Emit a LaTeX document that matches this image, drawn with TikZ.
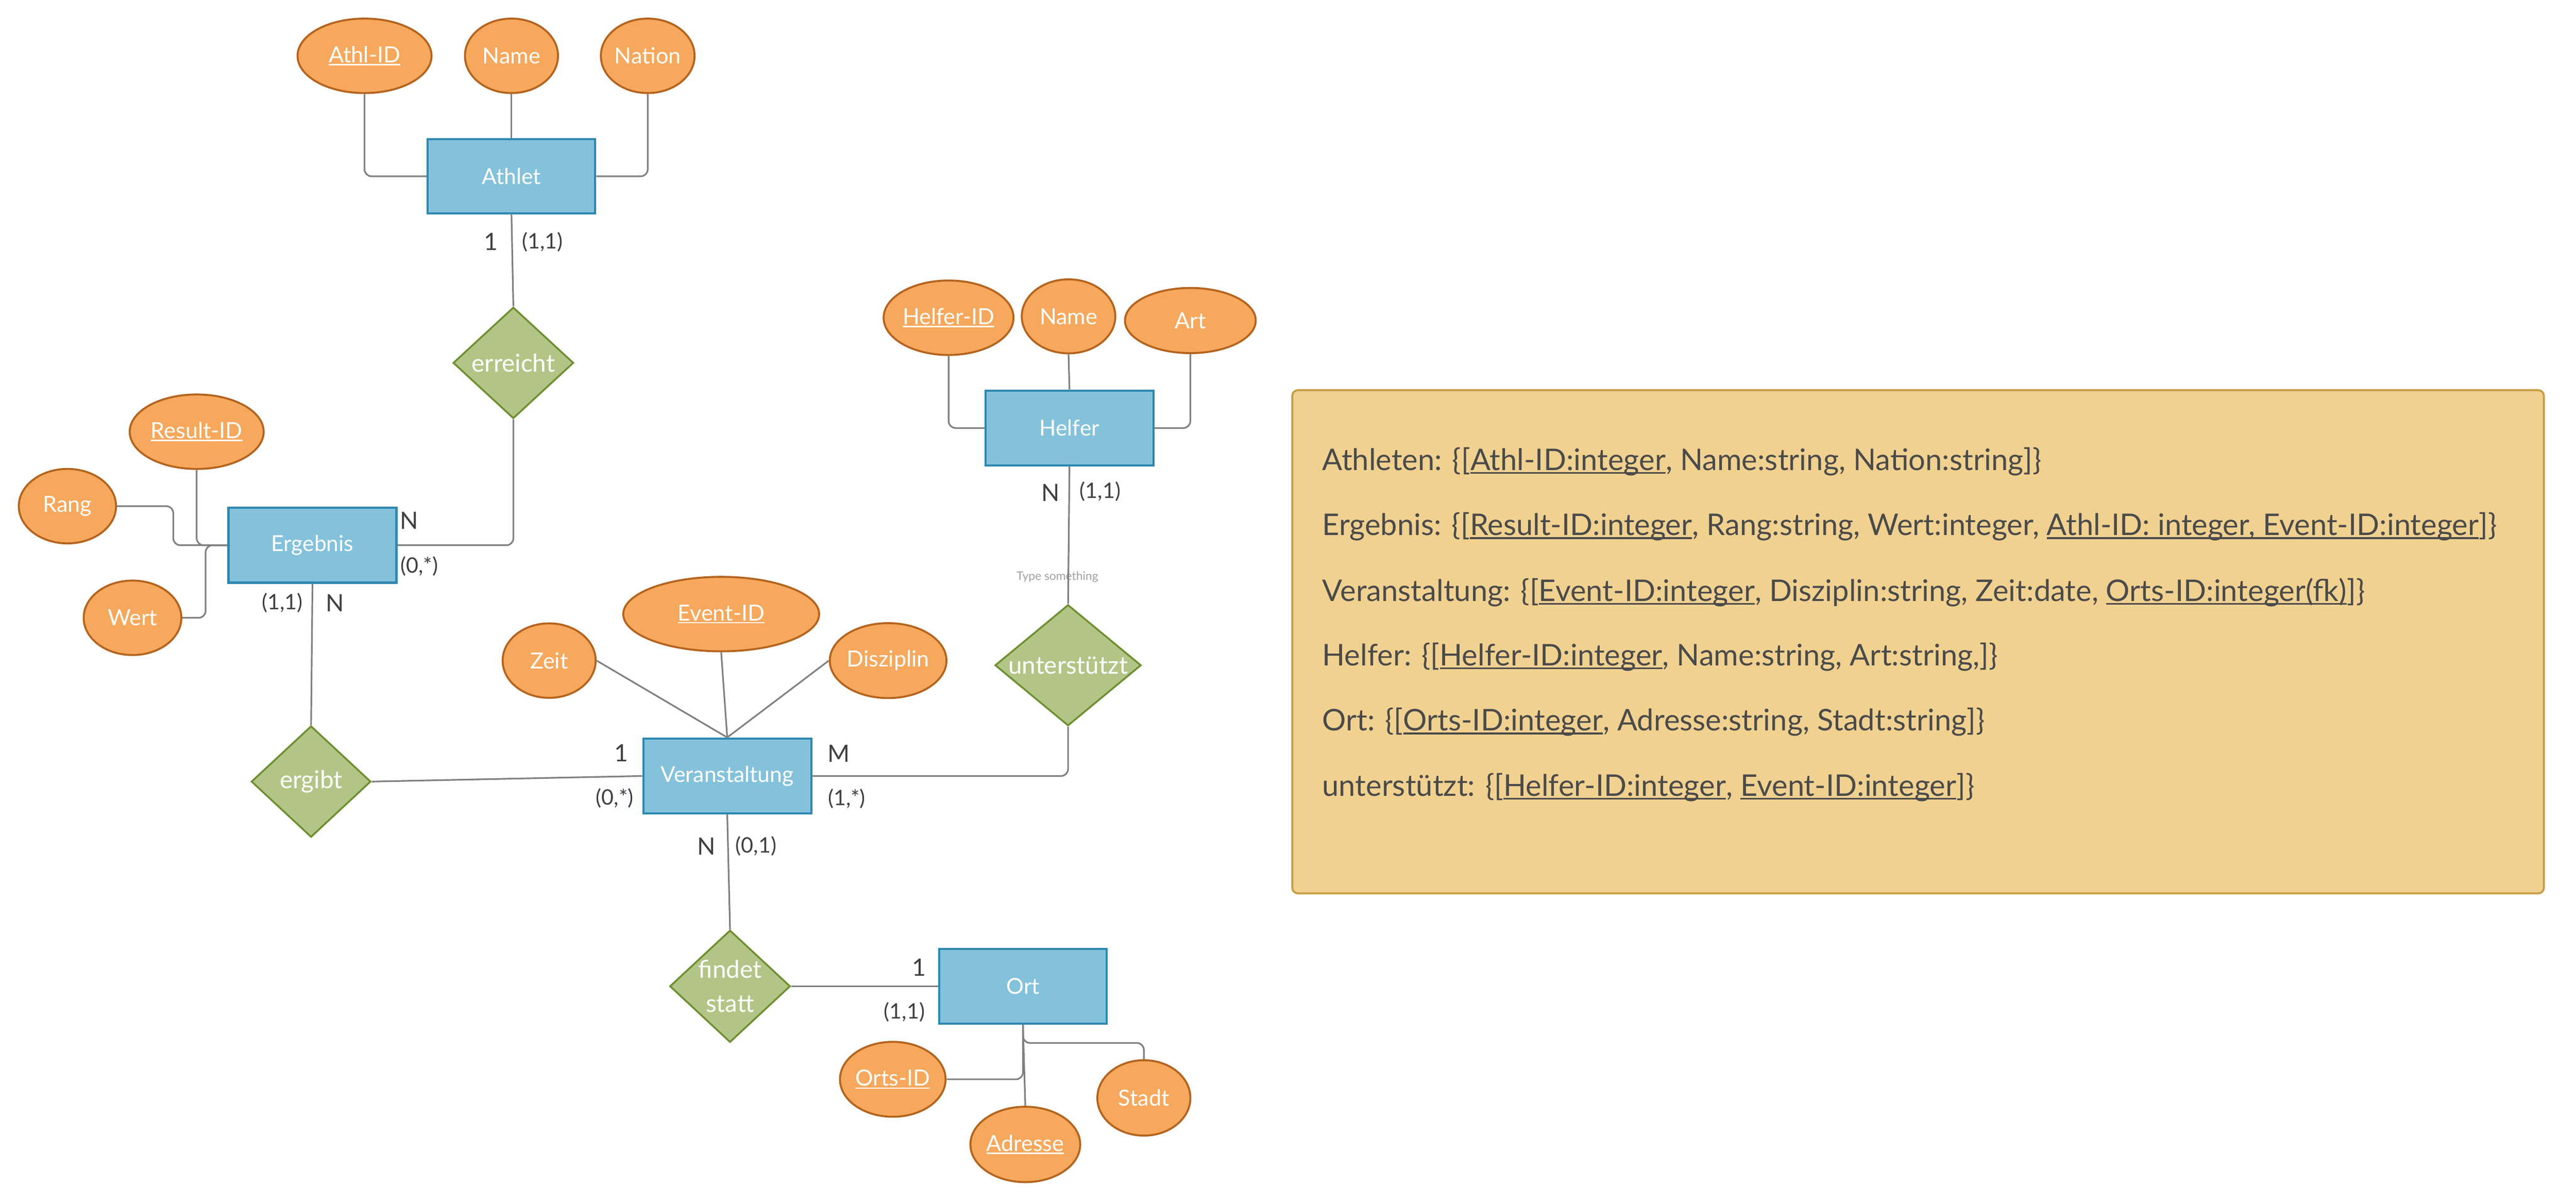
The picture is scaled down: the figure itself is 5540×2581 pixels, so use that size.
\documentclass[tikz,border=0pt]{standalone}
\usepackage{fontspec}
\setmainfont{Lato}
\usetikzlibrary{shapes.geometric}
\definecolor{attrfill}{HTML}{F6A85C}
\definecolor{attrdraw}{HTML}{B4641E}
\definecolor{entfill}{HTML}{84C2DB}
\definecolor{entdraw}{HTML}{2F88B0}
\definecolor{relfill}{HTML}{B2C586}
\definecolor{reldraw}{HTML}{6E8F30}
\definecolor{linecol}{HTML}{808080}
\definecolor{labcol}{HTML}{404040}
\definecolor{boxfill}{HTML}{F0D190}
\definecolor{boxdraw}{HTML}{C89D45}
\definecolor{boxtext}{HTML}{4A4A4A}
\definecolor{hintcol}{HTML}{A0A0A0}
\newcommand\myul[1]{\begingroup\setbox0=\hbox{#1}\rlap{\vrule height -0.06em depth 0.12em width \wd0}\box0\endgroup}
\newcommand\zw[1]{\makebox[0pt]{#1}}
\begin{document}
\begin{tikzpicture}[x=0.01cm,y=-0.01cm,
  attr/.style={ellipse, fill=attrfill, draw=attrdraw, line width=1.2pt, text=white, inner sep=0pt, font=\fontsize{13.6}{16}\selectfont},
  entity/.style={rectangle, fill=entfill, draw=entdraw, line width=1.3pt, text=white, inner sep=0pt, minimum width=3.61cm, minimum height=1.61cm, font=\fontsize{13.4}{16}\selectfont},
  rel/.style={diamond, fill=relfill, draw=reldraw, line width=1.1pt, text=white, inner sep=0pt, align=center, font=\fontsize{15}{20.8}\selectfont},
  conn/.style={draw=linecol, line width=1pt, rounded corners=0.15cm},
  card/.style={text=labcol, inner sep=0pt, font=\fontsize{14.6}{17}\selectfont},
  cardpair/.style={text=labcol, inner sep=0pt, font=\fontsize{13}{15}\selectfont},
  schemaline/.style={anchor=base west, inner sep=0pt, text=boxtext, font=\fontsize{18.25}{22}\selectfont}]
\useasboundingbox (0,0) rectangle (5540,2581);

% Athlet
\node[attr, minimum width=2.88cm, minimum height=1.6cm] (athlid) at (784,120) {\myul{Athl-ID}};
\node[attr, minimum width=2.0cm, minimum height=1.6cm] (athname) at (1100,120) {Name};
\node[attr, minimum width=2.0cm, minimum height=1.6cm] (nation) at (1393,120) {Nation};
\node[entity, minimum width=3.6cm, minimum height=1.6cm] (athlet) at (1100,379) {Athlet};
\node[rel, minimum width=2.59cm, minimum height=2.39cm] (erreicht) at (1104,780) {\zw{erreicht}};

% Ergebnis
\node[attr, minimum width=2.88cm, minimum height=1.6cm] (resultid) at (423,928) {\myul{Result-ID}};
\node[attr, minimum width=2.09cm, minimum height=1.6cm] (rang) at (145,1088) {Rang};
\node[attr, minimum width=2.1cm, minimum height=1.6cm] (wert) at (285,1328) {Wert};
\node[entity] (ergebnis) at (672,1172) {Ergebnis};
\node[rel, minimum width=2.57cm, minimum height=2.39cm] (ergibt) at (669,1680) {\zw{ergibt}};

% Veranstaltung
\node[attr, minimum width=2.0cm, minimum height=1.6cm] (zeit) at (1181,1420) {Zeit};
\node[attr, minimum width=4.21cm, minimum height=1.6cm] (eventid) at (1551,1320) {\myul{Event-ID}};
\node[attr, minimum width=2.17cm, minimum height=1.61cm] (disziplin) at (1910,1420) {Disziplin};
\node[entity] (veranst) at (1564,1668) {Veranstaltung};

% Helfer
\node[attr, minimum width=2.42cm, minimum height=1.6cm] (helferid) at (2040,683) {\myul{Helfer-ID}};
\node[attr, minimum width=2.01cm, minimum height=1.59cm] (hname) at (2298,680) {Name};
\node[attr, minimum width=2.81cm, minimum height=1.4cm] (art) at (2560,689) {Art};
\node[entity] (helfer) at (2300,920) {Helfer};
\node[rel, minimum width=3.14cm, minimum height=2.6cm] (unterst) at (2297,1430) {\zw{unterstützt}};
\node[text=hintcol, inner sep=0pt, font=\fontsize{7.2}{8}\selectfont] (hint) at (2274,1240) {Type something};

% Ort
\node[rel, minimum width=2.59cm, minimum height=2.41cm] (findet) at (1570,2120) {\zw{findet}\\\zw{statt}};
\node[entity, minimum width=3.6cm] (ort) at (2200,2120) {Ort};
\node[attr, minimum width=2.01cm, minimum height=1.61cm] (ortsid) at (1920,2320) {\myul{Orts-ID}};
\node[attr, minimum width=2.09cm, minimum height=1.62cm] (adresse) at (2205,2460) {\myul{Adresse}};
\node[attr, minimum width=2.0cm, minimum height=1.62cm] (stadt) at (2460,2360) {Stadt};

% connectors
\draw[conn] (athlid.south) |- (athlet.west);
\draw[conn] (athname.south) -- (athlet.north);
\draw[conn] (nation.south) |- (athlet.east);
\draw[conn] (athlet.south) -- (erreicht.north);
\draw[conn] (ergebnis.east) -| (erreicht.south);
\draw[conn] (rang.east) -- ++(121,0) |- (ergebnis.west);
\draw[conn] (resultid.south) |- (ergebnis.west);
\draw[conn] (wert.east) -- ++(50,0) |- (ergebnis.west);
\draw[conn] (ergebnis.south) -- (ergibt.north);
\draw[conn] (ergibt.east) -- (veranst.west);
\draw[conn] (zeit.east) -- (veranst.north);
\draw[conn] (eventid.south) -- (veranst.north);
\draw[conn] (disziplin.west) -- (veranst.north);
\draw[conn] (veranst.east) -| (unterst.south);
\draw[conn] (helfer.south) -- (unterst.north);
\draw[conn] (helferid.south) |- (helfer.west);
\draw[conn] (hname.south) -- (helfer.north);
\draw[conn] (art.south) |- (helfer.east);
\draw[conn] (veranst.south) -- (findet.north);
\draw[conn] (findet.east) -- (ort.west);
\draw[conn] (ort.south) -- ++(0,39) -| (stadt.north);
\draw[conn] (ortsid.east) -| (ort.south);
\draw[conn] (adresse.north) -- (ort.south);

% cardinalities
\node[card] (c1) at (1056,520) {1};
\node[cardpair] (c2) at (1167,520) {(1,1)};
\node[card] (c3) at (880,1119) {N};
\node[cardpair] (c4) at (902,1217) {(0,*)};
\node[cardpair] (c5) at (607,1296) {(1,1)};
\node[card] (c6) at (720,1296) {N};
\node[card] (c7) at (1336,1619) {1};
\node[cardpair] (c8) at (1322,1716) {(0,*)};
\node[card] (c9) at (1804,1620) {M};
\node[cardpair] (c10) at (1821,1717) {(1,*)};
\node[card] (c11) at (1519,1819) {N};
\node[cardpair] (c12) at (1626,1819) {(0,1)};
\node[card] (c13) at (1977,2079) {1};
\node[cardpair] (c14) at (1945,2176) {(1,1)};
\node[card] (c15) at (2259,1059) {N};
\node[cardpair] (c16) at (2366,1057) {(1,1)};

% schema box
\node[fill=boxfill, draw=boxdraw, line width=1.2pt, rounded corners=0.12cm, minimum width=26.9cm, minimum height=10.81cm, inner sep=0pt] (schema) at (4125,1379.5) {};
\node[schemaline] (l1) at (2843,1011) {Athleten: \{[\myul{Athl-ID:integer}, Name:string, Nation:string]\}};
\node[schemaline] (l2) at (2843,1151) {Ergebnis: \{[\myul{Result-ID:integer}, Rang:string, Wert:integer, \myul{Athl-ID: integer, Event-ID:integer}]\}};
\node[schemaline] (l3) at (2843,1292) {Veranstaltung: \{[\myul{Event-ID:integer}, Disziplin:string, Zeit:date, \myul{Orts-ID:integer(fk)}]\}};
\node[schemaline] (l4) at (2843,1431) {Helfer: \{[\myul{Helfer-ID:integer}, Name:string, Art:string,]\}};
\node[schemaline] (l5) at (2843,1571) {Ort: \{[\myul{Orts-ID:integer}, Adresse:string, Stadt:string]\}};
\node[schemaline] (l6) at (2843,1711) {unterstützt: \{[\myul{Helfer-ID:integer}, \myul{Event-ID:integer}]\}};
\end{tikzpicture}
\end{document}
